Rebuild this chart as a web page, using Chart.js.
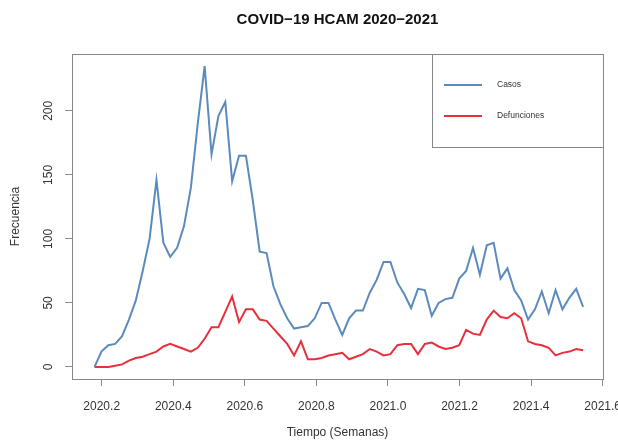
<!DOCTYPE html>
<html lang="es">
<head>
<meta charset="utf-8">
<title>COVID-19 HCAM 2020-2021</title>
<script src="https://cdn.jsdelivr.net/npm/chart.js@4.4.1/dist/chart.umd.min.js"></script>
<style>
  html, body { margin: 0; padding: 0; background: #fff; }
</style>
</head>
<body>
<canvas id="grafico" width="618" height="441"></canvas>
<script>
// serie semanal (frecuencia 52) que arranca en marzo de 2020
const inicio = 2020.18;
const frecuencia = 52;

const casos = [
    0, 12, 17, 18, 24, 37, 52, 75, 100, 146,
    97, 86, 93, 110, 140, 190, 235, 166, 196, 207,
    145, 165, 165, 130, 90, 89, 63, 49, 38, 30,
    31, 32, 38, 50, 50, 37, 25, 38, 44, 44,
    58, 68, 82, 82, 66, 57, 46, 61, 60, 40,
    50, 53, 54, 69, 75, 93, 72, 95, 97, 69,
    77, 60, 52, 37, 45, 59, 42, 60, 45, 54,
    61, 47
];
const defunciones = [
    0, 0, 0, 1, 2, 5, 7, 8, 10, 12,
    16, 18, 16, 14, 12, 15, 22, 31, 31, 43,
    55, 35, 45, 45, 37, 36, 30, 24, 18, 9,
    20, 6, 6, 7, 9, 10, 11, 6, 8, 10,
    14, 12, 9, 10, 17, 18, 18, 10, 18, 19,
    16, 14, 15, 17, 29, 26, 25, 37, 44, 39,
    38, 42, 38, 20, 18, 17, 15, 9, 11, 12,
    14, 13
];

const xTicks = [2020.2, 2020.4, 2020.6, 2020.8, 2021.0, 2021.2, 2021.4, 2021.6];
const yTicks = [0, 50, 100, 150, 200];
const series = ['Casos', 'Defunciones'];
const colores = ['#5b8bbd', '#e8303c'];
const titulo = 'COVID\u221219 HCAM 2020\u22122021';

const fuente = '"Liberation Sans", Arial, Helvetica, sans-serif';

// puntos (tiempo, valor) como un ts de R
function aPuntos(valores) {
    return valores.map((v, i) => ({ x: inicio + i / frecuencia, y: v }));
}

// caja alrededor del area de trazado y titulo centrado sobre ella
const caja = {
    id: 'caja',
    afterDatasetsDraw(chart) {
        const { ctx, chartArea: a } = chart;
        ctx.save();
        ctx.strokeStyle = '#888';
        ctx.lineWidth = 1;
        ctx.strokeRect(Math.round(a.left) + 0.5, Math.round(a.top) + 0.5,
            Math.round(a.right - a.left), Math.round(a.bottom - a.top));
        ctx.fillStyle = '#111';
        ctx.font = 'bold 15px ' + fuente;
        ctx.textAlign = 'center';
        ctx.textBaseline = 'middle';
        ctx.fillText(titulo, (a.left + a.right) / 2, 20);
        ctx.restore();
    }
};

// leyenda con borde en la esquina superior derecha
const leyenda = {
    id: 'leyenda',
    afterDraw(chart) {
        const { ctx, chartArea: a } = chart;
        const w = 171, h = 93;
        const x0 = Math.round(a.right - w), y0 = Math.round(a.top);
        ctx.save();
        ctx.fillStyle = '#fff';
        ctx.fillRect(x0, y0, w, h);
        ctx.strokeStyle = '#888';
        ctx.lineWidth = 1;
        ctx.strokeRect(x0 + 0.5, y0 + 0.5, w, h);
        chart.data.datasets.forEach((ds, i) => {
            const y = y0 + 31 + i * 31;
            ctx.strokeStyle = ds.borderColor;
            ctx.lineWidth = 2;
            ctx.beginPath();
            ctx.moveTo(x0 + 12, y);
            ctx.lineTo(x0 + 50, y);
            ctx.stroke();
            ctx.fillStyle = '#333';
            ctx.font = '8.5px ' + fuente;
            ctx.textBaseline = 'middle';
            ctx.textAlign = 'left';
            ctx.fillText(ds.label, x0 + 65, y);
        });
        ctx.restore();
    }
};

const ctx = document.getElementById('grafico').getContext('2d');

new Chart(ctx, {
    type: 'line',
    data: {
        datasets: [
            {
                label: series[0],
                data: aPuntos(casos),
                borderColor: colores[0],
                borderWidth: 2,
                pointRadius: 0,
                tension: 0,
                fill: false
            },
            {
                label: series[1],
                data: aPuntos(defunciones),
                borderColor: colores[1],
                borderWidth: 2,
                pointRadius: 0,
                tension: 0,
                fill: false
            }
        ]
    },
    options: {
        responsive: false,
        animation: false,
        devicePixelRatio: 1,
        layout: { padding: { left: 0, right: 15, top: 54, bottom: 0 } },
        plugins: {
            legend: { display: false },
            tooltip: { enabled: false },
            title: { display: false }
        },
        scales: {
            x: {
                type: 'linear',
                min: 2020.117,
                max: 2021.601,
                afterBuildTicks: (s) => { s.ticks = xTicks.map(v => ({ value: v })); },
                afterFit: (s) => { s.height = 62; s.paddingLeft = 0; s.paddingRight = 0; },
                border: { display: false },
                grid: { drawOnChartArea: false, drawTicks: true, tickLength: 7, color: '#888' },
                ticks: {
                    color: '#333',
                    font: { family: fuente, size: 12 },
                    padding: 13,
                    maxRotation: 0,
                    autoSkip: false,
                    callback: (v) => Number(v).toFixed(1)
                },
                title: {
                    display: true,
                    text: 'Tiempo (Semanas)',
                    color: '#333',
                    font: { family: fuente, size: 12 },
                    padding: { top: 0, bottom: 1 }
                }
            },
            y: {
                type: 'linear',
                min: -9.4,
                max: 244.4,
                afterBuildTicks: (s) => { s.ticks = yTicks.map(v => ({ value: v })); },
                afterFit: (s) => { s.width = 72; s.paddingTop = 0; s.paddingBottom = 0; },
                border: { display: false },
                grid: { drawOnChartArea: false, drawTicks: true, tickLength: 7, color: '#888' },
                ticks: {
                    color: '#333',
                    font: { family: fuente, size: 12 },
                    padding: 6,
                    minRotation: 90,
                    maxRotation: 90,
                    crossAlign: 'center',
                    autoSkip: false
                },
                title: {
                    display: true,
                    text: 'Frecuencia',
                    color: '#333',
                    font: { family: fuente, size: 12 },
                    padding: { top: 8, bottom: 0 }
                }
            }
        }
    },
    plugins: [caja, leyenda]
});
</script>
</body>
</html>
